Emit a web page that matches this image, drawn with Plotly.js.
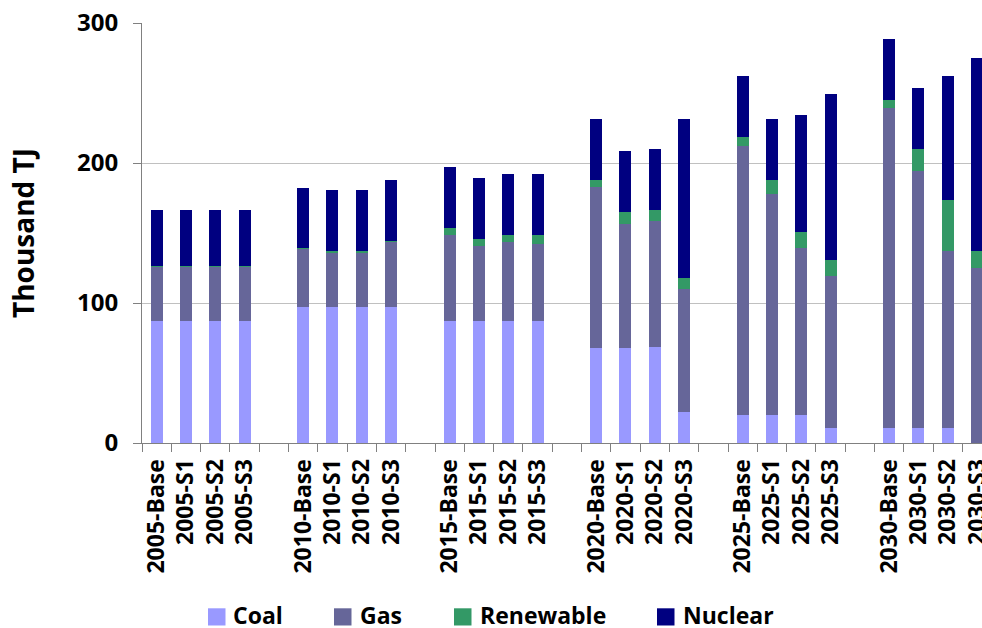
<!DOCTYPE html>
<html><head><meta charset="utf-8">
<script src="https://cdn.plot.ly/plotly-3.0.1.min.js"></script>
<style>html,body{margin:0;padding:0;background:#fff;overflow:hidden}#chart{width:982px;height:628px}</style>
</head><body><div id="chart"></div>
<script>
// categories (blank entries are the gaps between year groups)
const categories = [
  "2005-Base","2005-S1","2005-S2","2005-S3"," ",
  "2010-Base","2010-S1","2010-S2","2010-S3","  ",
  "2015-Base","2015-S1","2015-S2","2015-S3","   ",
  "2020-Base","2020-S1","2020-S2","2020-S3","    ",
  "2025-Base","2025-S1","2025-S2","2025-S3","     ",
  "2030-Base","2030-S1","2030-S2","2030-S3"
];
const coal = [87.4,87.4,87.4,87.4,null, 97.4,97.4,97.4,97.4,null, 87.4,87.4,87.4,87.4,null, 68.1,68.1,68.8,22.4,null, 20.2,20.2,20.2,11.0,null, 11.0,11.0,11.0,0];
const gas = [38.6,38.6,38.6,38.6,null, 41.4,38.6,38.6,46.4,null, 61.4,53.6,56.4,55.0,null, 115.0,88.6,90.0,87.8,null, 192.2,157.9,119.3,108.5,null, 228.5,183.5,126.4,125.2];
const renewable = [0.7,0.7,0.7,0.7,null, 0.3,1.4,1.4,0.2,null, 5.0,5.0,5.0,6.4,null, 5.0,8.5,7.9,7.9,null, 6.4,10.0,11.5,11.5,null, 5.7,15.7,36.4,12.2];
const nuclear = [40.0,40.0,40.0,40.0,null, 43.3,43.6,43.6,43.6,null, 43.6,43.5,43.6,43.6,null, 43.5,43.6,43.5,113.5,null, 43.6,43.6,83.5,118.5,null, 43.6,43.6,88.6,137.8];
const seriesNames = ["Coal","Gas","Renewable","Nuclear"];
const seriesValues = [coal, gas, renewable, nuclear];
const seriesColors = ["#9999FF","#666699","#339966","#000080"];
const yTicks = [0,100,200,300];
const yTitle = "Thousand TJ";

const FONT = "'Open Sans', Lato, sans-serif";
const plotLeft = 142, plotWidth = 840, plotTop = 23, plotHeight = 420;
const px2x = p => (p - plotLeft) / plotWidth;
const px2y = p => (plotTop + plotHeight - p) / plotHeight;

// legend layout (pixel positions of swatches and labels)
const legendSwatchLeft = [208, 334, 454, 657];
const legendTextLeft = [233, 360, 480, 683];

const traces = seriesNames.map((name, i) => ({
  type: "bar",
  name: name,
  x: categories,
  y: seriesValues[i],
  marker: {color: seriesColors[i], line: {width: 0}},
  hoverinfo: "x+y+name"
}));

const shapes = seriesNames.map((n, i) => ({
  type: "rect", xref: "paper", yref: "paper",
  x0: px2x(legendSwatchLeft[i]), x1: px2x(legendSwatchLeft[i] + 17.5),
  y0: px2y(625.5), y1: px2y(608.3),
  fillcolor: seriesColors[i], line: {width: 0}
}));
const annotations = seriesNames.map((n, i) => ({
  text: n, xref: "paper", yref: "paper",
  x: px2x(legendTextLeft[i] - 1), xanchor: "left",
  y: px2y(615), yanchor: "middle",
  showarrow: false, borderpad: 0,
  font: {family: FONT, size: 23, weight: "bold", color: "#000"}
}));

const layout = {
  width: 982, height: 628,
  margin: {l: plotLeft, r: 0, t: plotTop, b: 628 - plotTop - plotHeight, autoexpand: false},
  paper_bgcolor: "#ffffff", plot_bgcolor: "#ffffff",
  barmode: "stack",
  bargap: 0.59,
  showlegend: false,
  font: {family: FONT, color: "#000000", size: 22, weight: "bold"},
  xaxis: {
    type: "category",
    categoryorder: "array", categoryarray: categories,
    range: [-0.5, -0.5 + plotWidth / 29.3],
    tickson: "boundaries",
    ticks: "outside", ticklen: 8, tickcolor: "#808080", tickwidth: 1,
    tickangle: -90,
    ticklabelstandoff: 6,
    tickfont: {family: FONT, size: 23, weight: "bold", color: "#000"},
    showline: true, linecolor: "#808080", linewidth: 1,
    showgrid: false, zeroline: false, automargin: false, fixedrange: true
  },
  yaxis: {
    range: [0, 300],
    tickvals: yTicks,
    ticks: "outside", ticklen: 8, tickcolor: "#808080", tickwidth: 1,
    ticklabelstandoff: 10,
    tickfont: {family: FONT, size: 24, weight: "bold", color: "#000"},
    showline: true, linecolor: "#808080", linewidth: 1,
    showgrid: true, gridcolor: "#C0C0C0", gridwidth: 1,
    zeroline: false, automargin: false, fixedrange: true,
    title: {text: yTitle, font: {family: FONT, size: 28, weight: "bold", color: "#000"}, standoff: 34}
  },
  shapes: shapes,
  annotations: annotations
};

Plotly.newPlot("chart", traces, layout, {displayModeBar: false, staticPlot: true});
</script>
</body></html>
